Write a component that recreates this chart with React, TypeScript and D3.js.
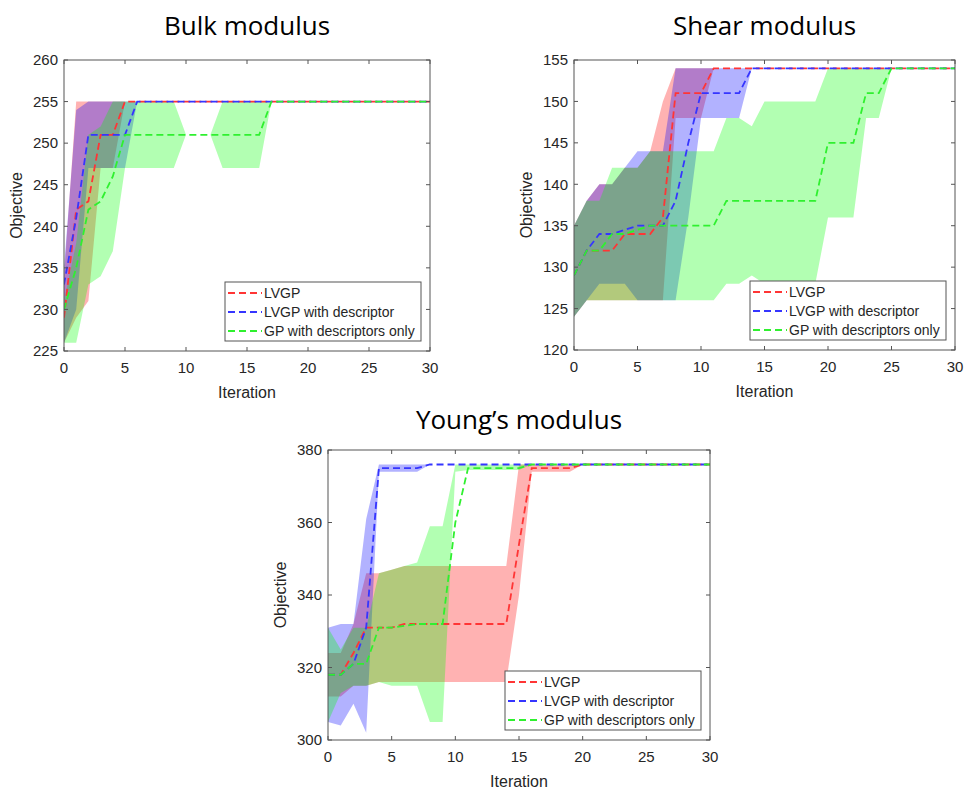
import React from 'react';
import * as d3 from 'd3';

const iterations = d3.range(0, 31);
const xTicks = [0, 5, 10, 15, 20, 25, 30];
const seriesNames = ['LVGP', 'LVGP with descriptor', 'GP with descriptors only'];
const lineColors = ['#ff3535', '#3535ff', '#2ff02f'];
const fillColors = ['#ff0000', '#0000ff', '#00ff00'];

// ---- Bulk modulus ----
const bulkTicks = [225, 230, 235, 240, 245, 250, 255, 260];
const bulkLvgpMean = [229, 242, 243, 251, 251, 255, 255, 255, 255, 255, 255, 255, 255, 255, 255, 255, 255, 255, 255, 255, 255, 255, 255, 255, 255, 255, 255, 255, 255, 255, 255];
const bulkLvgpLow = [226, 229, 231, 247, 247, 255, 255, 255, 255, 255, 255, 255, 255, 255, 255, 255, 255, 255, 255, 255, 255, 255, 255, 255, 255, 255, 255, 255, 255, 255, 255];
const bulkLvgpHigh = [234, 255, 255, 255, 255, 255, 255, 255, 255, 255, 255, 255, 255, 255, 255, 255, 255, 255, 255, 255, 255, 255, 255, 255, 255, 255, 255, 255, 255, 255, 255];
const bulkDescMean = [233, 241, 251, 251, 251, 251, 255, 255, 255, 255, 255, 255, 255, 255, 255, 255, 255, 255, 255, 255, 255, 255, 255, 255, 255, 255, 255, 255, 255, 255, 255];
const bulkDescLow = [226, 230, 247, 247, 247, 247, 255, 255, 255, 255, 255, 255, 255, 255, 255, 255, 255, 255, 255, 255, 255, 255, 255, 255, 255, 255, 255, 255, 255, 255, 255];
const bulkDescHigh = [235, 254, 255, 255, 255, 255, 255, 255, 255, 255, 255, 255, 255, 255, 255, 255, 255, 255, 255, 255, 255, 255, 255, 255, 255, 255, 255, 255, 255, 255, 255];
const bulkGpMean = [230, 235, 242, 243, 246, 251, 251, 251, 251, 251, 251, 251, 251, 251, 251, 251, 251, 255, 255, 255, 255, 255, 255, 255, 255, 255, 255, 255, 255, 255, 255];
const bulkGpLow = [226, 226, 233, 234, 237, 247, 247, 247, 247, 247, 251, 251, 251, 247, 247, 247, 247, 255, 255, 255, 255, 255, 255, 255, 255, 255, 255, 255, 255, 255, 255];
const bulkGpHigh = [231, 238, 251, 252, 255, 255, 255, 255, 255, 255, 251, 251, 251, 255, 255, 255, 255, 255, 255, 255, 255, 255, 255, 255, 255, 255, 255, 255, 255, 255, 255];

// ---- Shear modulus ----
const shearTicks = [120, 125, 130, 135, 140, 145, 150, 155];
const shearLvgpMean = [129, 132, 132, 132, 134, 134, 134, 136, 151, 151, 151, 154, 154, 154, 154, 154, 154, 154, 154, 154, 154, 154, 154, 154, 154, 154, 154, 154, 154, 154, 154];
const shearLvgpLow = [124, 126, 126, 126, 126, 126, 126, 126, 148, 148, 148, 154, 154, 154, 154, 154, 154, 154, 154, 154, 154, 154, 154, 154, 154, 154, 154, 154, 154, 154, 154];
const shearLvgpHigh = [135, 138, 140, 140, 142, 142, 144, 150, 154, 154, 154, 154, 154, 154, 154, 154, 154, 154, 154, 154, 154, 154, 154, 154, 154, 154, 154, 154, 154, 154, 154];
const shearDescMean = [129, 132, 134, 134, 134.5, 135, 135, 135, 138, 145, 151, 151, 151, 151, 154, 154, 154, 154, 154, 154, 154, 154, 154, 154, 154, 154, 154, 154, 154, 154, 154];
const shearDescLow = [124, 126, 128, 128, 128, 126, 126, 126, 126, 136, 148, 148, 148, 148, 154, 154, 154, 154, 154, 154, 154, 154, 154, 154, 154, 154, 154, 154, 154, 154, 154];
const shearDescHigh = [135, 138, 140, 140, 142, 144, 144, 144, 154, 154, 154, 154, 154, 154, 154, 154, 154, 154, 154, 154, 154, 154, 154, 154, 154, 154, 154, 154, 154, 154, 154];
const shearGpMean = [129, 132, 132, 134, 134, 134.5, 135, 135, 135, 135, 135, 135, 138, 138, 138, 138, 138, 138, 138, 138, 145, 145, 145, 151, 151, 154, 154, 154, 154, 154, 154];
const shearGpLow = [124, 126, 126, 126, 126, 126, 126, 126, 126, 126, 126, 126, 128, 128, 129, 128, 128, 128, 128, 128, 136, 136, 136, 148, 148, 154, 154, 154, 154, 154, 154];
const shearGpHigh = [135, 138, 138, 142, 142, 142, 144, 144, 144, 144, 144, 144, 148, 148, 147, 150, 150, 150, 150, 150, 154, 154, 154, 154, 154, 154, 154, 154, 154, 154, 154];

// ---- Young's modulus ----
const youngTicks = [300, 320, 340, 360, 380];
const youngLvgpMean = [318, 318, 324, 331, 331, 331, 332, 332, 332, 332, 332, 332, 332, 332, 332, 354, 375, 375, 375, 375, 376, 376, 376, 376, 376, 376, 376, 376, 376, 376, 376];
const youngLvgpLow = [312, 312, 315, 315, 316, 316, 316, 316, 316, 316, 316, 316, 316, 316, 316, 340, 374, 374, 374, 374, 376, 376, 376, 376, 376, 376, 376, 376, 376, 376, 376];
const youngLvgpHigh = [324, 324, 332, 346, 346, 347, 348, 348, 348, 348, 348, 348, 348, 348, 348, 376, 376, 376, 376, 376, 376, 376, 376, 376, 376, 376, 376, 376, 376, 376, 376];
const youngDescMean = [318, 318, 321, 331, 375, 375, 375, 375, 376, 376, 376, 376, 376, 376, 376, 376, 376, 376, 376, 376, 376, 376, 376, 376, 376, 376, 376, 376, 376, 376, 376];
const youngDescLow = [305, 304, 310, 302, 374, 374, 374, 374, 376, 376, 376, 376, 376, 376, 376, 376, 376, 376, 376, 376, 376, 376, 376, 376, 376, 376, 376, 376, 376, 376, 376];
const youngDescHigh = [331, 332, 332, 361, 376, 376, 376, 376, 376, 376, 376, 376, 376, 376, 376, 376, 376, 376, 376, 376, 376, 376, 376, 376, 376, 376, 376, 376, 376, 376, 376];
const youngGpMean = [318, 318, 321, 321, 331, 331, 331.5, 332, 332, 332, 360, 375, 375, 375, 375, 375, 376, 376, 376, 376, 376, 376, 376, 376, 376, 376, 376, 376, 376, 376, 376];
const youngGpLow = [305, 313, 315, 315, 316, 315, 315, 315, 305, 305, 374, 374.5, 374.5, 374.5, 374.5, 374.5, 376, 376, 376, 376, 376, 376, 376, 376, 376, 376, 376, 376, 376, 376, 376];
const youngGpHigh = [331, 325, 331, 331, 346, 347, 348, 349, 359, 359, 376, 376, 376, 376, 376, 376, 376, 376, 376, 376, 376, 376, 376, 376, 376, 376, 376, 376, 376, 376, 376];

const TICK_FONT = '"Liberation Sans", Arial, Helvetica, sans-serif';
const TITLE_FONT = '"Open Sans", "Noto Sans", sans-serif';
const TEXT_COLOR = '#262626';
const DASH = '7,4';

type PanelProps = {
  id: string;
  title: string;
  titleY: number;
  left: number;
  top: number;
  width: number;
  height: number;
  yDomain: [number, number];
  yTicks: number[];
  means: number[][];
  lows: number[][];
  highs: number[][];
};

function Panel(p: PanelProps) {
  const x = d3.scaleLinear().domain([0, 30]).range([p.left, p.left + p.width]);
  const y = d3.scaleLinear().domain(p.yDomain).range([p.top + p.height, p.top]);
  const bottom = p.top + p.height;
  const right = p.left + p.width;
  const tickLen = 4;

  const areaGen = (lo: number[], hi: number[]) =>
    d3
      .area<number>()
      .x((d) => x(d))
      .y0((d) => y(lo[d]))
      .y1((d) => y(hi[d]))(iterations) || '';
  const lineGen = (m: number[]) =>
    d3
      .line<number>()
      .x((d) => x(d))
      .y((d) => y(m[d]))(iterations) || '';

  const lgW = 196;
  const lgH = 59;
  const lgX = right - 9 - lgW;
  const lgY = bottom - 10 - lgH;

  return (
    <g>
      <defs>
        <clipPath id={`clip-${p.id}`}>
          <rect x={p.left} y={p.top} width={p.width} height={p.height} />
        </clipPath>
      </defs>
      <text
        x={(p.left + right) / 2}
        y={p.titleY}
        textAnchor="middle"
        fontFamily={TITLE_FONT}
        fontSize={26}
        fill="#000"
      >
        {p.title}
      </text>
      <rect x={p.left} y={p.top} width={p.width} height={p.height} fill="#fff" />
      <g clipPath={`url(#clip-${p.id})`}>
        {p.means.map((_, k) => (
          <path key={`a${k}`} d={areaGen(p.lows[k], p.highs[k])} fill={fillColors[k]} fillOpacity={0.3} stroke="none" />
        ))}
        {p.means.map((m, k) => (
          <path
            key={`l${k}`}
            d={lineGen(m)}
            fill="none"
            stroke={lineColors[k]}
            strokeWidth={1.8}
            strokeDasharray={DASH}
          />
        ))}
      </g>
      <rect x={p.left} y={p.top} width={p.width} height={p.height} fill="none" stroke="#555" strokeWidth={1} />
      {xTicks.map((t) => (
        <g key={`xt${t}`}>
          <line x1={x(t)} x2={x(t)} y1={bottom} y2={bottom - tickLen} stroke="#555" />
          <line x1={x(t)} x2={x(t)} y1={p.top} y2={p.top + tickLen} stroke="#555" />
          <text x={x(t)} y={bottom + 22} textAnchor="middle" fontFamily={TICK_FONT} fontSize={15} fill={TEXT_COLOR}>
            {t}
          </text>
        </g>
      ))}
      {p.yTicks.map((t) => (
        <g key={`yt${t}`}>
          <line x1={p.left} x2={p.left + tickLen} y1={y(t)} y2={y(t)} stroke="#555" />
          <line x1={right} x2={right - tickLen} y1={y(t)} y2={y(t)} stroke="#555" />
          <text
            x={p.left - 6}
            y={y(t)}
            dy="0.35em"
            textAnchor="end"
            fontFamily={TICK_FONT}
            fontSize={15}
            fill={TEXT_COLOR}
          >
            {t}
          </text>
        </g>
      ))}
      <text
        x={(p.left + right) / 2}
        y={bottom + 47}
        textAnchor="middle"
        fontFamily={TICK_FONT}
        fontSize={16}
        fill={TEXT_COLOR}
      >
        Iteration
      </text>
      <text
        transform={`translate(${p.left - 42},${(p.top + bottom) / 2}) rotate(-90)`}
        textAnchor="middle"
        fontFamily={TICK_FONT}
        fontSize={16}
        fill={TEXT_COLOR}
      >
        Objective
      </text>
      <g>
        <rect x={lgX} y={lgY} width={lgW} height={lgH} fill="#fff" stroke="#555" strokeWidth={1} />
        {seriesNames.map((name, k) => {
          const ry = lgY + 11 + k * 19;
          return (
            <g key={name}>
              <line
                x1={lgX + 3}
                x2={lgX + 37}
                y1={ry}
                y2={ry}
                stroke={lineColors[k]}
                strokeWidth={1.8}
                strokeDasharray={DASH}
              />
              <text x={lgX + 39} y={ry} dy="0.35em" fontFamily={TICK_FONT} fontSize={14} fill={TEXT_COLOR}>
                {name}
              </text>
            </g>
          );
        })}
      </g>
    </g>
  );
}

export default function App() {
  return (
    <svg
      width={964}
      height={789}
      style={{ position: 'absolute', left: 0, top: 0, background: '#fff' }}
    >
      <rect x={0} y={0} width={964} height={789} fill="#fff" />
      <Panel
        id="bulk"
        title="Bulk modulus"
        titleY={35}
        left={64}
        top={60}
        width={366}
        height={291}
        yDomain={[225, 260]}
        yTicks={bulkTicks}
        means={[bulkLvgpMean, bulkDescMean, bulkGpMean]}
        lows={[bulkLvgpLow, bulkDescLow, bulkGpLow]}
        highs={[bulkLvgpHigh, bulkDescHigh, bulkGpHigh]}
      />
      <Panel
        id="shear"
        title="Shear modulus"
        titleY={35}
        left={574}
        top={60}
        width={381}
        height={290}
        yDomain={[120, 155]}
        yTicks={shearTicks}
        means={[shearLvgpMean, shearDescMean, shearGpMean]}
        lows={[shearLvgpLow, shearDescLow, shearGpLow]}
        highs={[shearLvgpHigh, shearDescHigh, shearGpHigh]}
      />
      <Panel
        id="young"
        title="Young’s modulus"
        titleY={429}
        left={328}
        top={450}
        width={382}
        height={290}
        yDomain={[300, 380]}
        yTicks={youngTicks}
        means={[youngLvgpMean, youngDescMean, youngGpMean]}
        lows={[youngLvgpLow, youngDescLow, youngGpLow]}
        highs={[youngLvgpHigh, youngDescHigh, youngGpHigh]}
      />
    </svg>
  );
}
